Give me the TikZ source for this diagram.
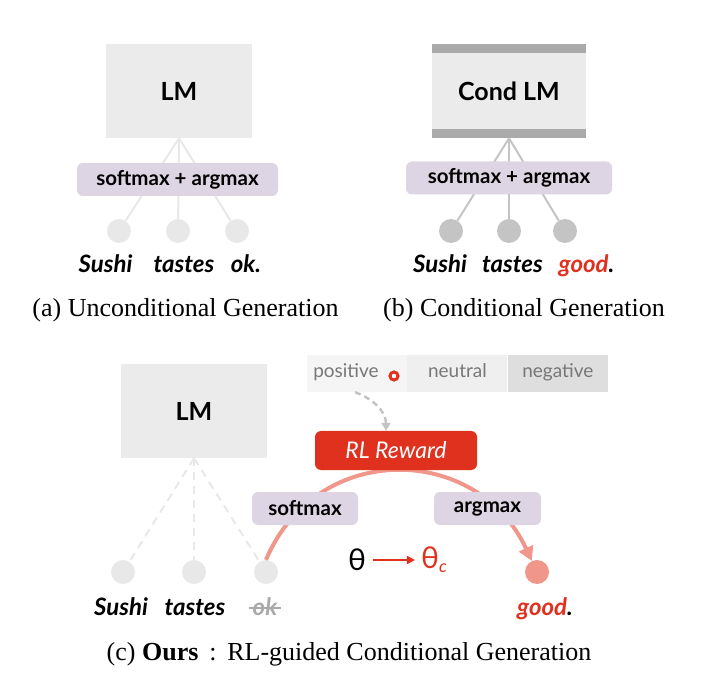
\documentclass[tikz,border=0pt]{standalone}
\usepackage{fontspec}
\setmainfont{Liberation Serif}
\newfontfamily\gill{Lato}
\usepackage{tikz}
\usetikzlibrary{arrows.meta,positioning,calc}

\definecolor{boxgray}{HTML}{EBEBEB}
\definecolor{bargray}{HTML}{AAAAAA}
\definecolor{lilac}{HTML}{DDD5E3}
\definecolor{dotlight}{HTML}{E8E8E8}
\definecolor{dotdark}{HTML}{C4C4C4}
\definecolor{rlred}{HTML}{E0301E}
\definecolor{rlpink}{HTML}{F0968A}
\definecolor{sentgray}{HTML}{777777}
\definecolor{posfill}{HTML}{F5F5F5}
\definecolor{neufill}{HTML}{EFEFEF}
\definecolor{negfill}{HTML}{DEDEDE}
\definecolor{strikegray}{HTML}{AAAAAA}

\begin{document}
\begin{tikzpicture}[x=1pt,y=1pt,
    lmbox/.style={fill=boxgray, inner sep=0pt, minimum width=146pt, minimum height=94pt,
      font=\gill\bfseries\fontsize{25}{30}\selectfont},
    condbox/.style={lmbox, minimum width=154pt, path picture={
      \fill[bargray] (path picture bounding box.north west) rectangle ([yshift=-9pt]path picture bounding box.north east);
      \fill[bargray] (path picture bounding box.south west) rectangle ([yshift=9pt]path picture bounding box.south east);}},
    opbox/.style={fill=lilac, rounded corners=6pt, minimum height=33pt, inner sep=0pt,
      font=\gill\bfseries\fontsize{20.5}{24}\selectfont},
    tokdot/.style={circle, inner sep=0pt, minimum size=24pt},
    word/.style={anchor=base, inner sep=1pt, font=\gill\bfseries\itshape\fontsize{24}{28}\selectfont},
    caption/.style={anchor=base, inner sep=0pt, font=\fontsize{26}{30}\selectfont},
    cell/.style={minimum width=100pt, minimum height=37pt, inner sep=0pt, text height=13pt,
      text depth=4pt, text=sentgray, font=\gill\fontsize{19}{22}\selectfont},
    ring/.style={circle, draw=rlred, line width=3pt, fill=white, inner sep=0pt, minimum size=8pt},
    reward/.style={fill=rlred, text=white, rounded corners=6pt, minimum width=162pt,
      minimum height=39pt, inner sep=0pt, font=\gill\itshape\fontsize{23}{27}\selectfont},
    fan/.style={line width=2pt},
    thfont/.style={inner sep=2pt, font=\gill\fontsize{30}{34}\selectfont},
  ]
  \useasboundingbox (0,0) rectangle (723,-700);

  % (a) unconditional
  \node[lmbox] (lmA) at (179,-91) {LM};
  \node[tokdot, fill=dotlight] (dA1) at (119,-231) {};
  \node[tokdot, fill=dotlight] (dA2) at (178,-231) {};
  \node[tokdot, fill=dotlight] (dA3) at (237,-231) {};
  \path[fan, draw=dotlight]
    (lmA.south) edge (dA1) edge (dA2) edge (dA3);
  \node[opbox, minimum width=201pt] (opA) at (177.5,-179.5) {softmax + argmax};
  \node[word] (wA1) at (105.5,-273) {Sushi};
  \node[word] (wA2) at (184,-273) {tastes};
  \node[word] (wA3) at (246,-273) {ok.};
  \node[caption] (capA) at (185.5,-317) {(a) Unconditional Generation};

  % (b) conditional
  \node[condbox] (lmB) at (509,-91) {Cond LM};
  \node[tokdot, fill=dotdark] (dB1) at (451,-231) {};
  \node[tokdot, fill=dotdark] (dB2) at (509,-231) {};
  \node[tokdot, fill=dotdark] (dB3) at (565,-231) {};
  \path[fan, draw=dotdark]
    (lmB.south) edge (dB1) edge (dB2) edge (dB3);
  \node[opbox, minimum width=206pt] (opB) at (509,-178) {softmax + argmax};
  \node[word] (wB1) at (440,-273) {Sushi};
  \node[word] (wB2) at (512.5,-273) {tastes};
  \node[word] (wB3) at (586.5,-273) {\textcolor{rlred}{good}.};
  \node[caption] (capB) at (524,-317) {(b) Conditional Generation};

  % (c) ours
  \node[lmbox] (lmC) at (194,-411) {LM};
  \node[tokdot, fill=dotlight] (dC1) at (123,-572) {};
  \node[tokdot, fill=dotlight] (dC2) at (194,-572) {};
  \node[tokdot, fill=dotlight] (dC3) at (266,-572) {};
  \node[tokdot, fill=rlpink] (goodC) at (537,-572) {};
  \path[fan, draw=dotlight, dash pattern=on 8pt off 6pt]
    (lmC.south) edge (dC1) edge (dC2) edge (dC3);

  \node[cell, fill=posfill] (pos) at (357,-373.5) {positive\kern22pt};
  \node[cell, fill=neufill, right=0pt of pos] (neu) {neutral};
  \node[cell, fill=negfill, right=0pt of neu] (neg) {negative};
  \node[ring] (mark) at ([xshift=37pt,yshift=-2.5pt]pos.center) {};

  \draw[rlpink, line width=4pt, -{Triangle[length=14pt,width=15pt]}]
    (dC3.north) to[out=67,in=115,looseness=1.25] (goodC);
  \node[reward] (rl) at (396,-450.5) {RL Reward};
  \draw[dotdark, line width=2.5pt, dash pattern=on 6pt off 4pt, -{Triangle[length=8pt,width=9pt]}]
    ([xshift=-2pt]pos.south) to[out=-20,in=90] ([xshift=-10pt]rl.north);
  \node[opbox, minimum width=106pt] (smC) at (305,-508.5) {softmax};
  \node[opbox, minimum width=107pt] (amC) at (487.5,-508.5) {argmax};

  \node[thfont] (th) at (357,-560) {θ};
  \node[thfont, text=rlred] (thc) at (434,-560) {θ\raisebox{-4pt}{\fontsize{17}{17}\selectfont\itshape c}};
  \draw[rlred, line width=1.8pt, shorten <=5pt, shorten >=4pt, -{Triangle[length=8pt,width=8pt]}]
    (th) -- (thc);

  \node[word] (wC1) at (121,-615) {Sushi};
  \node[word] (wC2) at (195,-615) {tastes};
  \node[word, text=strikegray] (wC3) at (265,-615) {ok};
  \draw[strikegray, line width=1.5pt]
    ([xshift=-3pt,yshift=7pt]wC3.base west) -- ([xshift=3pt,yshift=7pt]wC3.base east);
  \node[word] (wC4) at (545,-615) {\textcolor{rlred}{good}.};
  \node[caption] (capC) at (349,-660) {(c) \textbf{Ours}\,~:~\,RL-guided Conditional Generation};
\end{tikzpicture}
\end{document}
